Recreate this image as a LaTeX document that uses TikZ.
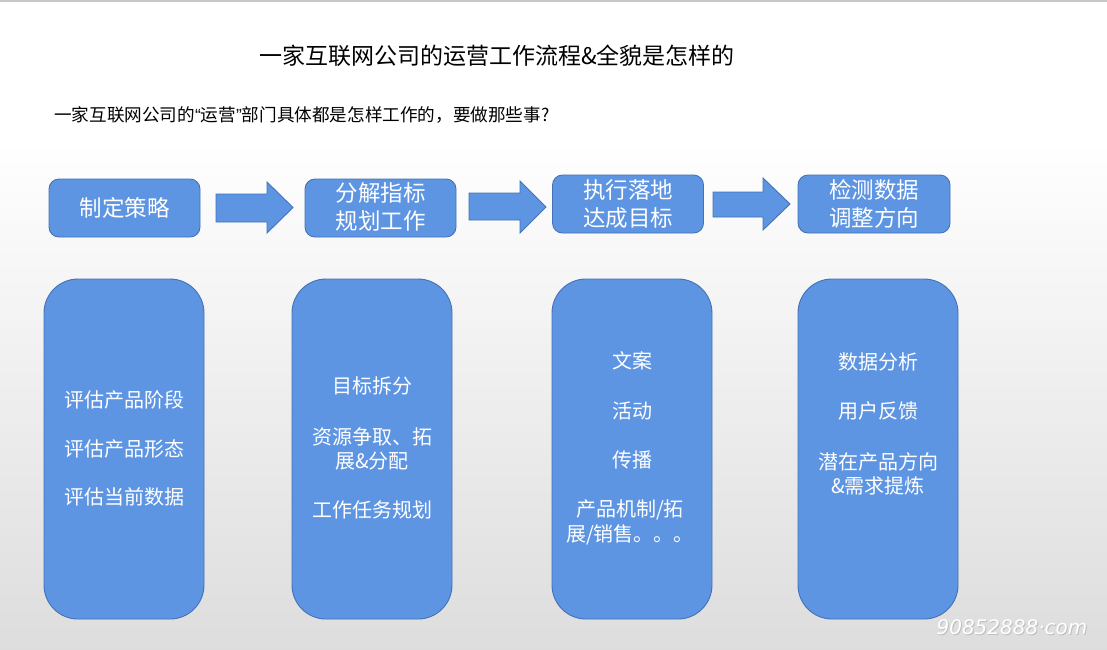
\documentclass[tikz,border=0pt]{standalone}
\usepackage{fontspec}
\newfontfamily\cjk{Noto Sans CJK SC}
\newfontfamily\lat{Liberation Sans}
\newfontfamily\wmfont{DejaVu Sans}
\definecolor{blu}{RGB}{94,149,227}
\definecolor{bord}{RGB}{68,114,180}
\definecolor{bgbot}{RGB}{221,221,221}
\begin{document}
\begin{tikzpicture}[x=1pt,y=-1pt,
  hbox/.style={draw=bord,fill=blu,line width=0.9pt,rounded corners=10pt,minimum width=151pt,minimum height=58pt,inner sep=0pt},
  tbox/.style={draw=bord,fill=blu,line width=0.9pt,rounded corners=34pt,minimum width=160pt,minimum height=340pt,inner sep=0pt},
  htx/.style={text=white,font=\cjk\fontsize{22.5}{28}\selectfont,align=center,inner sep=0pt},
  ttx/.style={text=white,font=\cjk\fontsize{20}{24.5}\selectfont,align=center,inner sep=0pt},
  barrow/.style={draw=bord,fill=blu,line width=0.9pt,line join=miter}]
\useasboundingbox (0,0) rectangle (1107,649);
\fill[white] (0,0) rectangle (1107,140);
\shade[top color=white,bottom color=bgbot] (0,140) rectangle (1107,649);
\draw[line width=1.5pt,color={rgb,255:red,200;green,200;blue,200}] (0,0.75) -- (1107,0.75);
% titles
\node[font=\cjk\fontsize{23}{27}\selectfont,inner sep=0pt] (title) at (497,56) {一家互联网公司的运营工作流程\&全貌是怎样的};
\node[font=\cjk\fontsize{17.6}{20}\selectfont,inner sep=0pt,anchor=west] (sub) at (54,115) {一家互联网公司的{\lat “}运营{\lat ”}部门具体都是怎样工作的，要做那些事?};
% header boxes
\node[hbox] (h1) at (124.5,208) {};
\node[hbox] (h2) at (380.5,208) {};
\node[hbox] (h3) at (628,204) {};
\node[hbox,minimum width=152pt] (h4) at (874,204) {};
\node[htx] (h1t) at (h1) {制定策略};
\node[htx] (h2t) at (380.5,207) {分解指标\\规划工作};
\node[htx] (h3t) at (628,204) {执行落地\\达成目标};
\node[htx] (h4t) at (874,204) {检测数据\\调整方向};
% block arrows
\draw[barrow] (216,194) -- (267,194) -- (267,182) -- (293,207.5) -- (267,233) -- (267,222) -- (216,222) -- cycle;
\draw[barrow] (469,193) -- (520,193) -- (520,181) -- (546,207) -- (520,233) -- (520,220) -- (469,220) -- cycle;
\draw[barrow] (713,192) -- (763,192) -- (763,178) -- (790,204) -- (763,230) -- (763,217) -- (713,217) -- cycle;
% tall boxes
\node[tbox] (b1) at (124,449) {};
\node[tbox] (b2) at (372,449) {};
\node[tbox] (b3) at (632,449) {};
\node[tbox] (b4) at (878,449) {};
% texts box 1
\node[ttx] (b1a) at (124.5,400) {评估产品阶段};
\node[ttx] (b1b) at (124.5,449) {评估产品形态};
\node[ttx] (b1c) at (124.5,497) {评估当前数据};
% box 2
\node[ttx] (b2a) at (372,386) {目标拆分};
\node[ttx] (b2b) at (372,449) {资源争取、拓\\展\&分配};
\node[ttx] (b2c) at (372,510) {工作任务规划};
% box 3
\node[ttx] (b3a) at (632,361) {文案};
\node[ttx] (b3b) at (632,411) {活动};
\node[ttx] (b3c) at (632,460) {传播};
\node[ttx] (b3d) at (630,522.5) {产品机制/拓\\展/销售。。。};
% box 4
\node[ttx] (b4a) at (878,362) {数据分析};
\node[ttx] (b4b) at (878,411) {用户反馈};
\node[ttx] (b4c) at (878,474) {潜在产品方向\\\&需求提炼};
% watermark
\node[text={rgb,255:red,190;green,190;blue,190},font=\wmfont\itshape\fontsize{20}{24}\selectfont,inner sep=0pt] (wms) at (1013,628) {90852888·com};
\node[text=white,font=\wmfont\itshape\fontsize{20}{24}\selectfont,inner sep=0pt] (wm) at (1012,627) {90852888·com};
\end{tikzpicture}
\end{document}
